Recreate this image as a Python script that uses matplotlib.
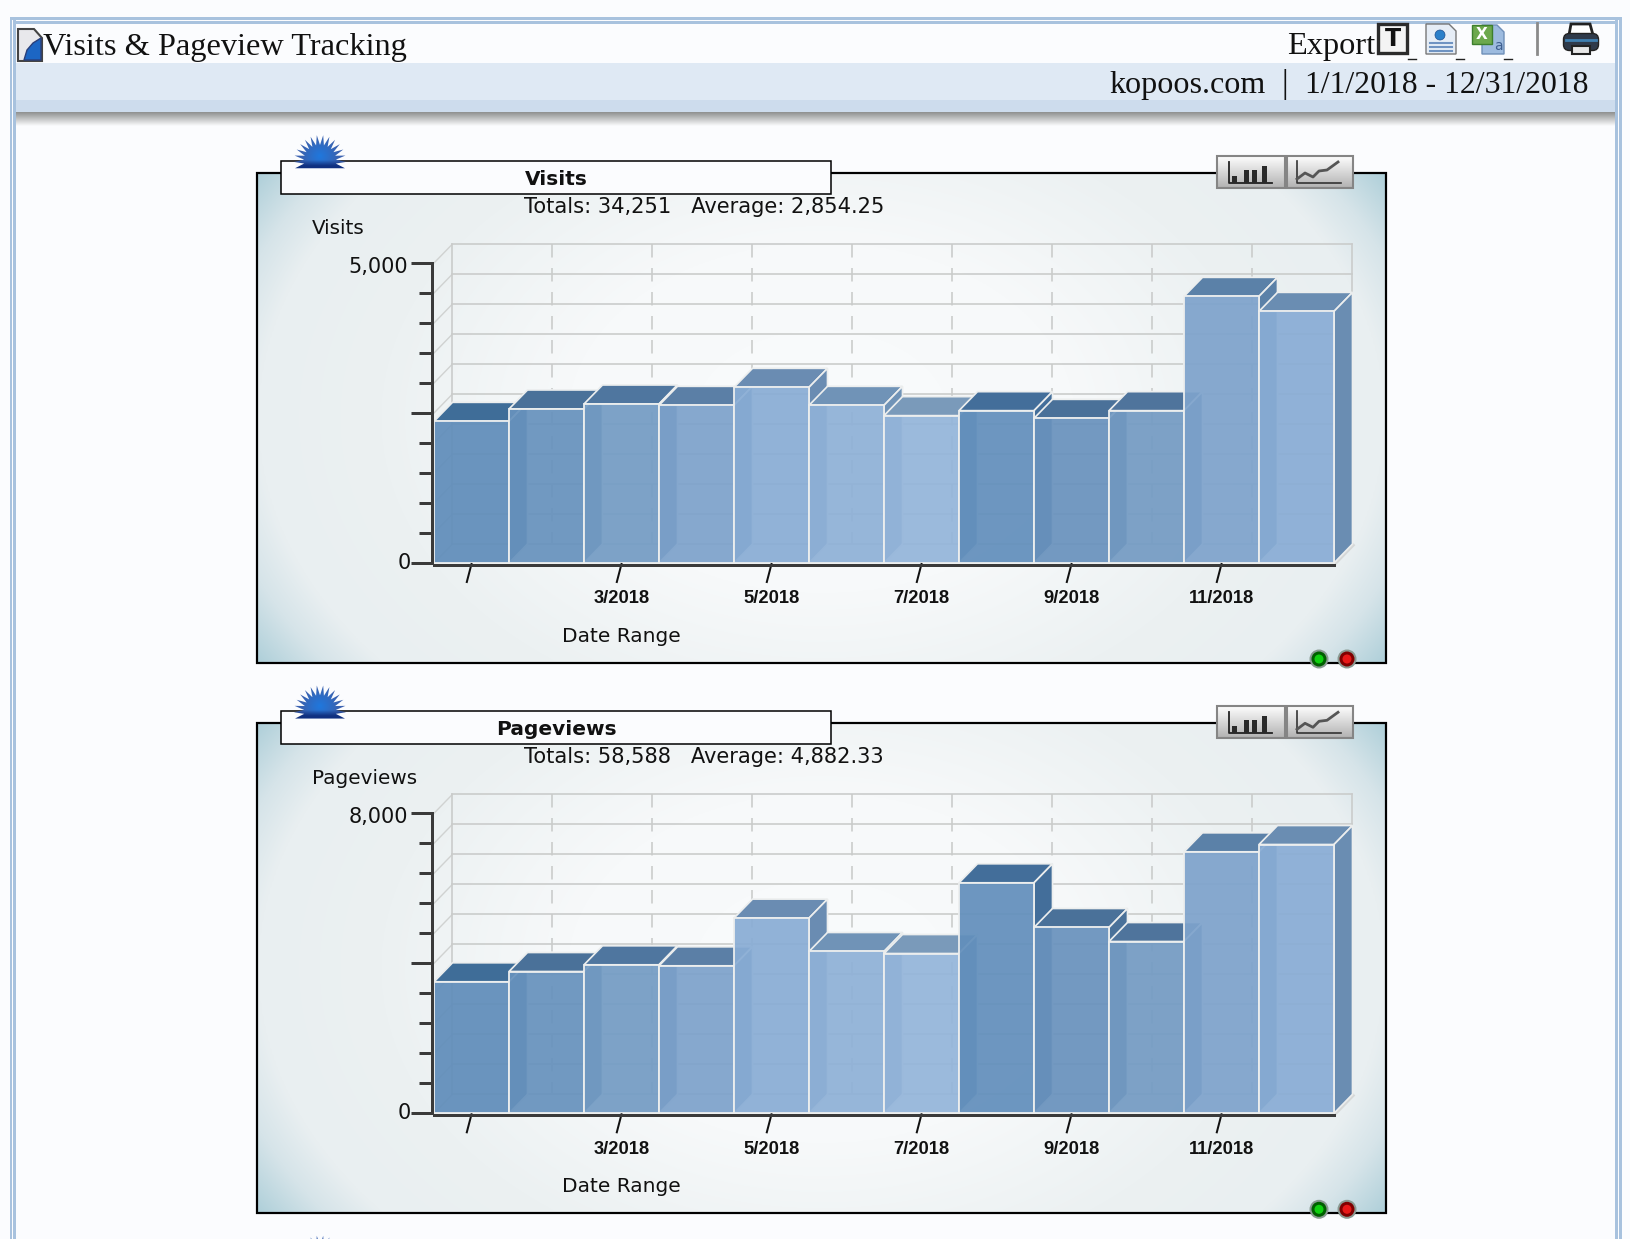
import numpy as np
import matplotlib
matplotlib.use("Agg")
import matplotlib.pyplot as plt
import matplotlib.colors as mcolors
from matplotlib.patches import Polygon, Rectangle, Circle, FancyBboxPatch
from matplotlib.ticker import MultipleLocator
from matplotlib.transforms import ScaledTranslation

W, H = 1631, 1239

# data
months = ["", "", "3/2018", "", "5/2018", "", "7/2018", "", "9/2018", "", "11/2018", ""]
visits = [2361, 2567, 2650, 2628, 2928, 2628, 2456, 2539, 2411, 2539, 4444, 4194]
pageviews = [3507, 3781, 3960, 3933, 5205, 4315, 4261, 6147, 4955, 4581, 6973, 7168]
visits_max = 5000
pageviews_max = 8000

front_colors = ["#6a94be", "#7199c1", "#7da2c8", "#85a8ce", "#90b2d7", "#96b6d9",
                "#9bbadc", "#6c96c0", "#7399c1", "#7da1c7", "#86a9cf", "#90b2d7"]
top_colors = ["#3f6d98", "#4a7199", "#4f769f", "#5b7fa6", "#6a8cb2", "#7093b7",
              "#7a9aba", "#436e9a", "#4a7199", "#4f749c", "#5b81a8", "#6a8db2"]

PAGE = "#fbfcfe"
EDGE = "#eceeee"
GRID = "#c9cbca"
AXIS = "#3a3a3a"
SERIF = "Liberation Serif"
ALPHA = 0.93

fig = plt.figure(figsize=(W / 100, H / 100), dpi=100, facecolor=PAGE)
bg = fig.add_axes([0, 0, 1, 1], zorder=0)
bg.set_xlim(0, W)
bg.set_ylim(H, 0)
bg.axis("off")
bg.set_autoscale_on(False)


def px(v):
    # pixels to points
    return v * 0.72


def vgrad(x0, x1, y0, y1, c0, c1, z=1):
    a = np.array(mcolors.to_rgb(c0))
    b = np.array(mcolors.to_rgb(c1))
    t = np.linspace(0, 1, 64)[:, None]
    img = (a + (b - a) * t)[:, None, :]
    return bg.imshow(img, extent=(x0, x1, y1, y0), aspect="auto", zorder=z, interpolation="bilinear")


def page_frame():
    for x0, x1 in [(10, 12.5), (13.5, 16), (1615, 1618), (1619.5, 1622)]:
        bg.add_patch(Rectangle((x0, 17), x1 - x0, H, fc="#a8c2de", ec="none", zorder=1))
    bg.add_patch(Rectangle((10, 17), 1612, 2.5, fc="#a8c2de", ec="none", zorder=1))
    bg.add_patch(Rectangle((13.5, 21), 1604, 2.5, fc="#a8c2de", ec="none", zorder=1))
    bg.add_patch(Rectangle((16, 63), 1599, 37, fc="#dfe9f4", ec="none", zorder=1))
    bg.add_patch(Rectangle((16, 100), 1599, 12, fc="#cddced", ec="none", zorder=1))
    vgrad(16, 1615, 112, 126, "#8e908f", PAGE)

    bg.text(43, 55.5, "Visits & Pageview Tracking", family=SERIF, fontsize=23.3, va="baseline", color="#111111", zorder=5)
    bg.text(1287, 54, "Export", family=SERIF, fontsize=23.3, va="baseline", color="#111111", zorder=5)
    bg.text(1109.5, 93, "kopoos.com", family=SERIF, fontsize=23.1, va="baseline", color="#111111", zorder=5)
    bg.text(1285, 93, "|", family=SERIF, fontsize=24, va="baseline", ha="center", color="#111111", zorder=5)
    bg.text(1305.5, 93, "1/1/2018 - 12/31/2018", family=SERIF, fontsize=22.85, va="baseline", color="#111111", zorder=5)

    # page icon
    bg.add_patch(Polygon([(18, 29), (34, 29), (42, 38), (42, 61), (18, 61)], fc="#e8e8ec", ec="#444444", lw=1.5, zorder=3))
    bg.add_patch(Polygon([(41, 60), (24, 60), (27, 50), (33, 43), (41, 38)], fc="#1c66c4", ec="#2a3f7a", lw=1, zorder=4))

    # export icons
    bg.add_patch(Rectangle((1378, 24), 29, 29, fc="#f4f4f4", ec="#2c2c2c", lw=2.4, zorder=3))
    bg.text(1392.5, 39, "T", fontsize=17, fontweight="bold", ha="center", va="center", color="#111111", zorder=4)
    bg.add_patch(Polygon([(1426, 24), (1449, 24), (1456, 31), (1456, 54), (1426, 54)], fc="#e6edf6", ec="#777777", lw=1, zorder=3))
    bg.add_patch(Circle((1440, 35), 5, fc="#2b7fc9", ec="#1f4f8f", lw=0.5, zorder=4))
    for yy in (43, 47, 51):
        bg.plot([1430, 1452], [yy, yy], color="#6f93c2", lw=1.5, zorder=4)
    bg.add_patch(Polygon([(1482, 25), (1497, 25), (1504, 32), (1504, 54), (1482, 54)], fc="#9dbbdf", ec="#6f8fb8", lw=1, zorder=3))
    bg.add_patch(Rectangle((1472, 25), 20, 19, fc="#6ca84c", ec="#3d7f2d", lw=1, zorder=4))
    bg.text(1482, 34.5, "X", fontsize=11, fontweight="bold", ha="center", va="center", color="#ffffff", zorder=5)
    bg.text(1498, 46, "a", fontsize=10, ha="center", va="center", color="#3f5f90", zorder=5)
    for x0 in (1408, 1456, 1504):
        bg.plot([x0, x0 + 8], [59, 59], color="#222222", lw=1, zorder=3)
    bg.plot([1537, 1537], [23, 54], color="#8a8a8a", lw=2, zorder=3)

    # printer
    bg.add_patch(Polygon([(1569, 35), (1571, 24), (1590, 24), (1593, 35)], fc="#ffffff", ec="#222222", lw=2, zorder=3))
    bg.add_patch(FancyBboxPatch((1565, 35), 32, 14, boxstyle="round,pad=1.5,rounding_size=6", fc="#2f3a4a", ec="#222222", lw=1, zorder=4))
    bg.plot([1566, 1596], [40, 40], color="#3f7fb0", lw=2, zorder=5)
    bg.add_patch(Rectangle((1572, 46), 18, 8, fc="#e8e8e8", ec="#222222", lw=1.5, zorder=5))


def star(cx, cy):
    pts = []
    angles = np.linspace(np.pi * 1.09, -np.pi * 0.09, 31)
    for i, a in enumerate(angles):
        r = 26 if i % 2 == 0 else 16
        pts.append((cx + r * np.cos(a), cy - r * np.sin(a)))
    poly = Polygon(pts, fc="none", ec="none", zorder=6)
    bg.add_patch(poly)
    yy, xx = np.mgrid[-28:8:72j, -28:28:112j]
    r = np.hypot(xx / 19, (yy + 5) / 19)
    low = np.clip((yy + 1) / 6, 0, 1)[:, :, None]
    inner = np.array(mcolors.to_rgb("#1f78de"))
    outer = np.array(mcolors.to_rgb("#3a62b0"))
    dark = np.array(mcolors.to_rgb("#0f3080"))
    t = np.clip(r, 0, 1)[:, :, None]
    img = inner + (outer - inner) * t
    img = img + (dark - img) * low
    im = bg.imshow(img, extent=(cx - 28, cx + 28, cy + 8, cy - 28), aspect="auto", zorder=7, interpolation="bilinear")
    im.set_clip_path(poly)


def button_pair(x0, x1, xm, y0, y1):
    for a, b in [(x0, xm), (xm, x1)]:
        vgrad(a + 2, b - 2, y0 + 2, y1 - 2, "#fbfbfb", "#b4b4b4", z=3)
        bg.add_patch(Rectangle((a + 1, y0 + 1), b - a - 2, y1 - y0 - 2, fc="none", ec="#858585", lw=1.5, zorder=4))
    # bar icon
    bg.plot([x0 + 13, x0 + 13, x0 + 56], [y0 + 7, y1 - 6, y1 - 6], color="#222222", lw=1.3, zorder=5)
    for bx, bh in zip([x0 + 16, x0 + 28, x0 + 36, x0 + 46], [7, 13, 13, 17]):
        bg.add_patch(Rectangle((bx, y1 - 6 - bh), 5, bh, fc="#2a2a2a", ec="none", zorder=5))
    # line icon
    bg.plot([xm + 11, xm + 11, xm + 55], [y0 + 6, y1 - 6, y1 - 6], color="#333333", lw=1.2, zorder=5)
    bg.plot([xm + 11, xm + 19, xm + 27, xm + 33, xm + 41, xm + 52], [y1 - 10, y1 - 16, y1 - 12, y1 - 18, y1 - 19, y1 - 27],
            color="#555555", lw=2, zorder=5)


def panel_background(y_off):
    x0, x1, y0, y1 = 257, 1386, 173 + y_off, 663 + y_off
    yy, xx = np.mgrid[-1:1:245j, -1:1:565j]
    r = np.sqrt(xx ** 2 + (yy / 1.6) ** 2)
    stops = [0, 0.45, 0.78, 1.0, 1.08, 1.18]
    cols = np.array([mcolors.to_rgb(c) for c in ["#f9fbfc", "#f7f9fa", "#ecf1f2", "#e9eff1", "#d6e4e9", "#aecfd9"]])
    img = np.dstack([np.interp(r, stops, cols[:, i]) for i in range(3)])
    bg.imshow(img, extent=(x0, x1, y1, y0), aspect="auto", zorder=1, interpolation="bilinear")
    bg.add_patch(Rectangle((x0, y0), x1 - x0, y1 - y0, fc="none", ec="#000000", lw=px(2.2), zorder=2))


def apparent(color, a=ALPHA, under="#f3f6f7"):
    # colour to lay over the wall so that the bar reads as the given colour
    c = np.array(mcolors.to_rgb(color))
    u = np.array(mcolors.to_rgb(under))
    return tuple(np.clip((c - (1 - a) * u) / a, 0, 1)) + (a,)


def chart(values, ymax, y_off, title, summary, ylabel):
    panel_background(y_off)

    # title strip
    bg.add_patch(Rectangle((281, 161 + y_off), 550.5, 33, fc=PAGE, ec="#000000", lw=1.1, zorder=5))
    star(320, 161 + y_off)
    bg.text(556, 179.5 + y_off, title, fontsize=14.5, fontweight="bold", ha="center", va="center", color="#111111", zorder=6)
    bg.text(524, 207 + y_off, summary, fontsize=15.1, ha="left", va="center", color="#111111", zorder=6)
    bg.text(312, 228 + y_off, ylabel, fontsize=14.4, ha="left", va="center", color="#111111", zorder=6)
    bg.text(621.5, 636 + y_off, "Date Range", fontsize=14.5, ha="center", va="center", color="#111111", zorder=6)

    button_pair(1216, 1354, 1286, 155 + y_off, 189 + y_off)

    # status lights
    for cx, c_in, c_out in [(1319, "#10d010", "#006000"), (1347, "#e81818", "#800000")]:
        bg.add_patch(Circle((cx, 659 + y_off), 9.5, fc="#8a9a92", ec="none", zorder=6))
        bg.add_patch(Circle((cx, 659 + y_off), 7.5, fc=c_out, ec="none", zorder=7))
        bg.add_patch(Circle((cx, 659 + y_off), 4.5, fc=c_in, ec="none", zorder=8))

    # front plane of the chart
    ax = fig.add_axes([434 / W, 1 - (563 + y_off) / H, 900 / W, 300 / H], zorder=2)
    ax.patch.set_visible(False)
    ax.set_xlim(0, len(values))
    ax.set_ylim(0, ymax)
    dx = 18.5 * len(values) / 900
    dy = 19 * ymax / 300
    n = len(values)
    centers = np.arange(n) + 0.5

    # back wall, side wall and floor
    steps = np.arange(0, ymax + 1, ymax / 10)
    for v in steps:
        ax.plot([dx, n + dx], [v + dy, v + dy], color=GRID, lw=px(1.6), zorder=1, clip_on=False)
        ax.plot([0, dx], [v, v + dy], color="#d0d2d1", lw=px(1.4), zorder=1, clip_on=False)
    ax.plot([dx, dx], [dy, ymax + dy], color=GRID, lw=px(1.6), zorder=1, clip_on=False)
    ax.plot([n + dx, n + dx], [dy, ymax + dy], color=GRID, lw=px(1.6), zorder=1, clip_on=False)
    for xv in np.linspace(dx, n + dx, 10)[1:-1]:
        ax.plot([xv, xv], [ymax + dy, dy], color=GRID, lw=px(1.6), zorder=1, clip_on=False,
                dashes=(13.5 / 1.6, 10.5 / 1.6))
    ax.plot([n, n + dx], [-ymax * 0.004, dy - ymax * 0.004], color="#d6d8d8", lw=px(4), zorder=1, clip_on=False)

    # bars, drawn left to right so each one covers the side of the one before
    for i, v in enumerate(values):
        z = 3 + i
        top = Polygon([(i, v), (i + dx, v + dy), (i + 1 + dx, v + dy), (i + 1, v)],
                      fc=top_colors[i], ec=EDGE, lw=px(1.7), zorder=z, clip_on=False)
        side = Polygon([(i + 1, 0), (i + 1 + dx, dy), (i + 1 + dx, v + dy), (i + 1, v)],
                       fc=top_colors[i], ec=EDGE, lw=px(1.7), zorder=z, clip_on=False)
        ax.add_patch(top)
        ax.add_patch(side)
        ax.bar(centers[i], v, width=1, color=[apparent(front_colors[i])], edgecolor=EDGE,
               linewidth=px(1.8), zorder=z, clip_on=False)

    # axes
    for s in ("top", "right"):
        ax.spines[s].set_visible(False)
    ax.spines["left"].set_position(("outward", px(2)))
    ax.spines["bottom"].set_position(("outward", px(1.5)))
    ax.spines["left"].set_linewidth(px(3))
    ax.spines["bottom"].set_linewidth(px(3))
    ax.spines["left"].set_color(AXIS)
    ax.spines["bottom"].set_color(AXIS)
    ax.spines["left"].set_zorder(30)
    ax.spines["bottom"].set_zorder(30)
    ax.set_yticks([0, ymax / 2, ymax], ["0", "", f"{ymax:,}"])
    ax.yaxis.set_minor_locator(MultipleLocator(ymax / 10))
    ax.tick_params(axis="y", which="major", length=px(21), width=px(3), color=AXIS, pad=px(3), labelsize=15, labelcolor="#111111")
    ax.tick_params(axis="y", which="minor", length=px(13), width=px(3), color=AXIS)
    labs = ax.get_yticklabels()
    low_shift = ScaledTranslation(px(3) / 72, px(2) / 72, fig.dpi_scale_trans)
    high_shift = ScaledTranslation(0, px(-1.5) / 72, fig.dpi_scale_trans)
    labs[0].set_transform(labs[0].get_transform() + low_shift)
    labs[2].set_transform(labs[2].get_transform() + high_shift)

    ax.set_xticks(centers[::2], months[::2])
    ax.tick_params(axis="x", length=0, pad=px(25.9))
    for lab in ax.get_xticklabels():
        lab.set_fontfamily("Liberation Sans")
        lab.set_fontweight("bold")
        lab.set_fontsize(13.2)
        lab.set_color("#111111")

    # slanted x ticks
    tf = ax.get_xaxis_transform()
    for c in centers[::2]:
        ax.plot([c, c - 4.7 * n / 900], [-1 / 300, -19 / 300], color="#111111", lw=px(2), transform=tf, clip_on=False, zorder=30)
    return ax


page_frame()
chart(visits, visits_max, 0, "Visits", "Totals: 34,251   Average: 2,854.25", "Visits")
chart(pageviews, pageviews_max, 550.3, "Pageviews", "Totals: 58,588   Average: 4,882.33", "Pageviews")
star(320, 161 + 550.3 * 2)

fig.savefig("out.png", dpi=100, facecolor=PAGE)
